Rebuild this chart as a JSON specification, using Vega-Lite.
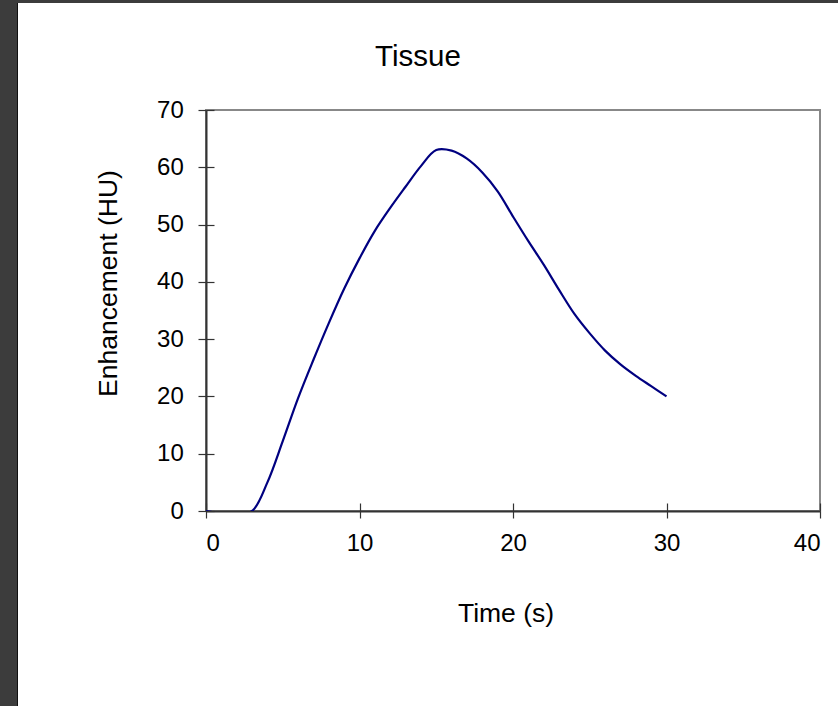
{
  "$schema": "https://vega.github.io/schema/vega-lite/v6.json",
  "background": "white",
  "padding": 0,
  "bounds": "flush",
  "spacing": 0,
  "config": {
    "font": "Liberation Sans",
    "axis": {
      "grid": false,
      "labelFont": "Liberation Sans",
      "labelColor": "black",
      "titleFont": "Liberation Sans",
      "titleColor": "black",
      "titleFontWeight": "normal",
      "domainColor": "#333333",
      "domainWidth": 2,
      "tickColor": "#333333",
      "tickWidth": 1.2,
      "zindex": 1
    },
    "title": {
      "font": "Liberation Sans",
      "fontWeight": "normal",
      "color": "black"
    }
  },
  "vconcat": [
    {
      "width": 838,
      "height": 3,
      "view": {"fill": "#3c3c3c", "stroke": null},
      "data": {"values": []},
      "mark": "rect",
      "encoding": {}
    },
    {
      "bounds": "flush",
      "spacing": 0,
      "hconcat": [
        {
          "width": 17,
          "height": 703,
          "view": {"fill": "#3c3c3c", "stroke": null},
          "data": {"values": []},
          "mark": "rect",
          "encoding": {}
        },
        {
          "width": 1,
          "height": 703,
          "view": {"fill": "#111111", "stroke": null},
          "data": {"values": []},
          "mark": "rect",
          "encoding": {}
        },
        {
          "width": 188,
          "height": 703,
          "view": {"stroke": null},
          "data": {"values": []},
          "mark": "rect",
          "encoding": {}
        },
        {
          "bounds": "flush",
          "spacing": 7,
          "vconcat": [
            {
              "width": 614,
              "height": 100,
              "view": {"stroke": null},
              "data": {"values": []},
              "mark": "rect",
              "encoding": {}
            },
            {
              "width": 614,
              "height": 401,
              "view": {"stroke": "#888888", "strokeWidth": 2},
              "title": {
                "text": "Tissue",
                "fontSize": 29.5,
                "anchor": "middle",
                "frame": "group",
                "baseline": "alphabetic",
                "offset": 3,
                "dx": -95
              },
              "data": {
                "values": [
                  {"t": 0, "hu": 0},
                  {"t": 1, "hu": -0.4},
                  {"t": 2, "hu": -0.5},
                  {"t": 3, "hu": 0},
                  {"t": 4, "hu": 5.0},
                  {"t": 5, "hu": 12.2},
                  {"t": 6, "hu": 19.7},
                  {"t": 7, "hu": 26.4},
                  {"t": 8, "hu": 32.8},
                  {"t": 9, "hu": 38.8},
                  {"t": 10, "hu": 44.1},
                  {"t": 11, "hu": 48.9},
                  {"t": 12, "hu": 52.9},
                  {"t": 13, "hu": 56.6},
                  {"t": 14, "hu": 60.2},
                  {"t": 15, "hu": 63.0},
                  {"t": 16, "hu": 62.9},
                  {"t": 17, "hu": 61.5},
                  {"t": 18, "hu": 59.1},
                  {"t": 19, "hu": 55.8},
                  {"t": 20, "hu": 51.4},
                  {"t": 21, "hu": 47.1},
                  {"t": 22, "hu": 43.0},
                  {"t": 23, "hu": 38.6},
                  {"t": 24, "hu": 34.4},
                  {"t": 25, "hu": 31.0},
                  {"t": 26, "hu": 28.0},
                  {"t": 27, "hu": 25.6},
                  {"t": 28, "hu": 23.6},
                  {"t": 29, "hu": 21.8},
                  {"t": 30, "hu": 20.0}
                ]
              },
              "layer": [
                {
                  "mark": {"type": "line", "strokeOpacity": 0},
                  "encoding": {
                    "x": {
                      "field": "t",
                      "type": "quantitative",
                      "scale": {"domain": [0, 40], "nice": false, "zero": false},
                      "axis": {
                        "orient": "top",
                        "offset": -401,
                        "title": null,
                        "labels": false,
                        "domain": false,
                        "values": [0, 10, 20, 30, 40],
                        "tickSize": 8
                      }
                    },
                    "y": {
                      "field": "hu",
                      "type": "quantitative",
                      "scale": {"domain": [0, 70], "nice": false, "zero": false},
                      "axis": {
                        "orient": "right",
                        "offset": -614,
                        "title": null,
                        "labels": false,
                        "domain": false,
                        "values": [0, 10, 20, 30, 40, 50, 60, 70],
                        "tickSize": 8
                      }
                    }
                  }
                },
                {
                  "mark": {
                    "type": "line",
                    "interpolate": "catmull-rom",
                    "stroke": "#000080",
                    "strokeWidth": 2.2,
                    "clip": true
                  },
                  "encoding": {
                    "x": {
                      "field": "t",
                      "type": "quantitative",
                      "axis": {
                        "orient": "bottom",
                        "title": "Time (s)",
                        "values": [0, 10, 20, 30, 40],
                        "labelFontSize": 24,
                        "titleFontSize": 26.5,
                        "tickSize": 7,
                        "labelPadding": 13.5,
                        "titleX": 299.5,
                        "titleY": 110.7,
                        "titleBaseline": "alphabetic",
                        "titleAlign": "center"
                      }
                    },
                    "y": {
                      "field": "hu",
                      "type": "quantitative",
                      "axis": {
                        "orient": "left",
                        "title": "Enhancement (HU)",
                        "values": [0, 10, 20, 30, 40, 50, 60, 70],
                        "labelFontSize": 24,
                        "titleFontSize": 26.5,
                        "tickSize": 8,
                        "labelPadding": 14.7,
                        "titleX": -90,
                        "titleY": 173,
                        "titleAngle": 270,
                        "titleBaseline": "alphabetic",
                        "titleAlign": "center"
                      }
                    }
                  }
                }
              ],
              "resolve": {"axis": {"x": "independent", "y": "independent"}}
            }
          ]
        }
      ]
    }
  ]
}
